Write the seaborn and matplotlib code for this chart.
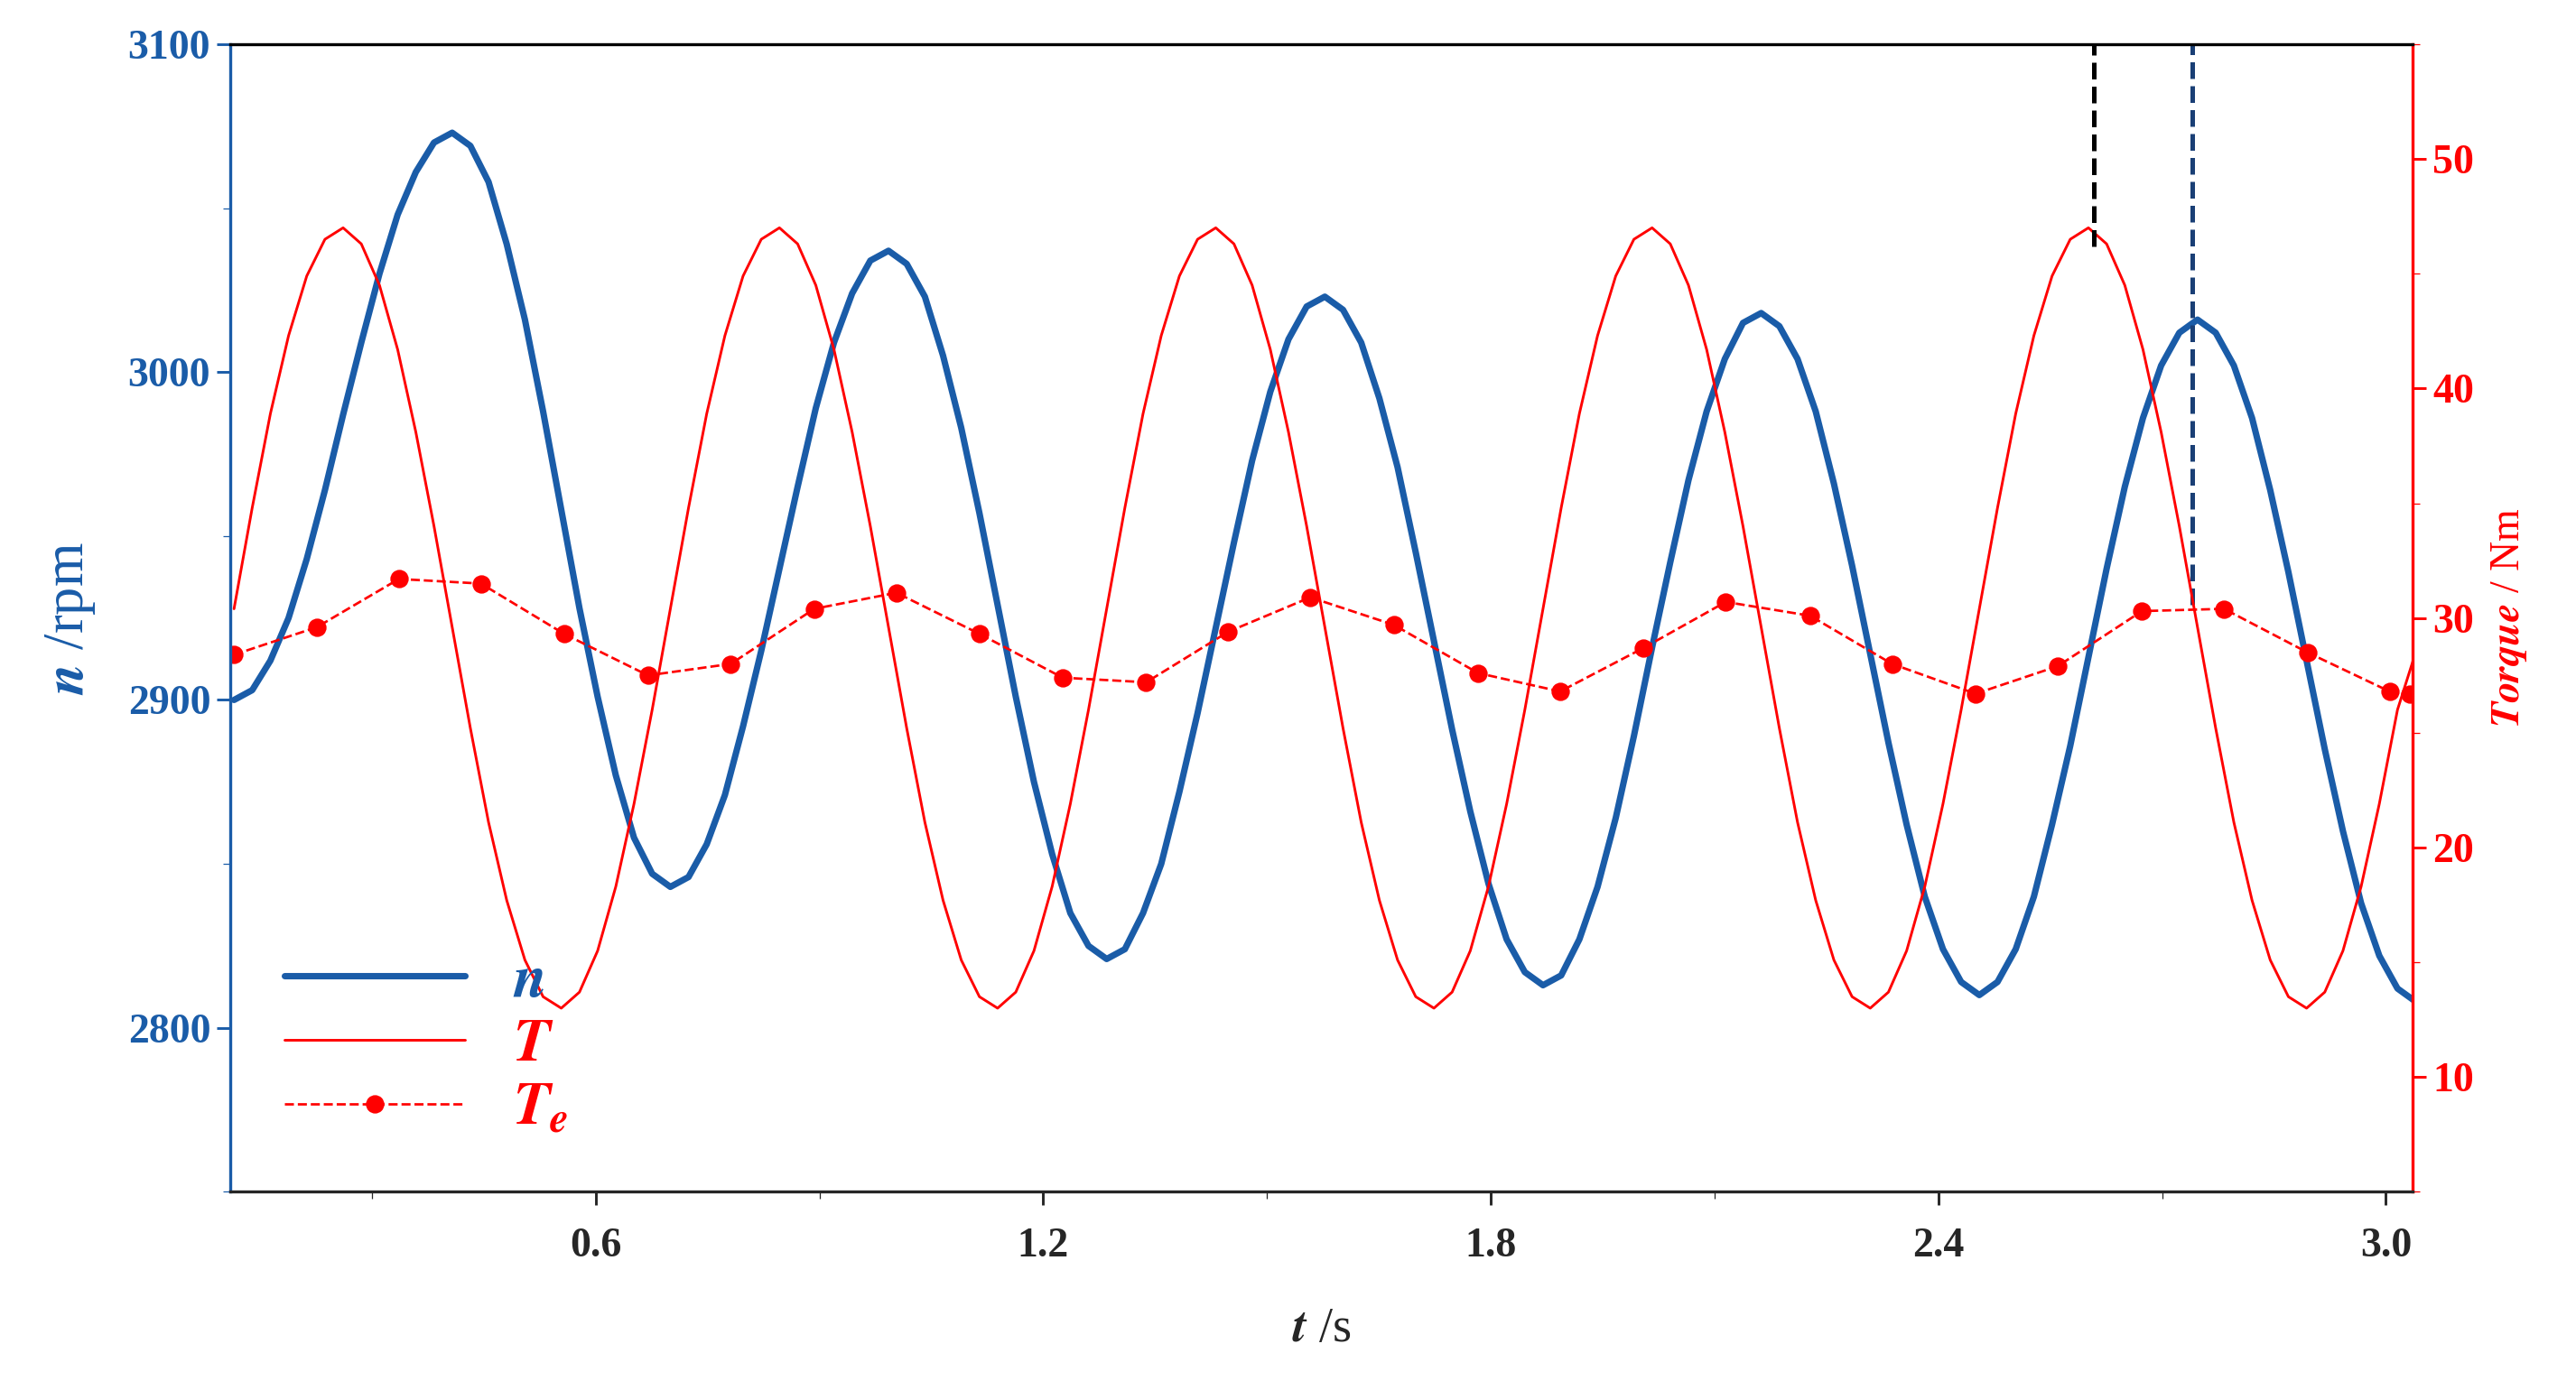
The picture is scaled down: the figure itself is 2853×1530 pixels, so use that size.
import numpy as np
import pandas as pd
import matplotlib
matplotlib.use("Agg")
import matplotlib.pyplot as plt
from matplotlib.ticker import MultipleLocator
import seaborn as sns

sns.set_style("ticks")
plt.rcParams['font.family'] = ['Liberation Serif', 'DejaVu Serif']
plt.rcParams['font.weight'] = 'bold'
plt.rcParams['mathtext.fontset'] = 'stix'

BLUE = '#1a5ca8'
RED = '#ff0000'

# sample times (s) for n and T curves
t_curve = np.linspace(0.115, 3.04, 121)

# rotational speed n (rpm)
n_rpm = [2900, 2903, 2912, 2925, 2943, 2964, 2987, 3009, 3030, 3048, 3061, 3070, 3073,
         3069, 3058, 3039, 3016, 2988, 2958, 2928, 2901, 2877, 2858, 2847, 2843,
         2846, 2856, 2871, 2892, 2915, 2940, 2965, 2989, 3009, 3024, 3034, 3037,
         3033, 3023, 3005, 2983, 2957, 2929, 2901, 2875, 2853, 2835, 2825, 2821,
         2824, 2835, 2850, 2872, 2896, 2922, 2948, 2973, 2994, 3010, 3020, 3023,
         3019, 3009, 2992, 2971, 2945, 2918, 2891, 2866, 2844, 2827, 2817, 2813,
         2816, 2827, 2843, 2864, 2889, 2916, 2942, 2967, 2988, 3004, 3015, 3018,
         3014, 3004, 2988, 2966, 2941, 2914, 2887, 2862, 2840, 2824, 2814, 2810,
         2814, 2824, 2840, 2862, 2886, 2913, 2940, 2965, 2986, 3002, 3012, 3016,
         3012, 3002, 2986, 2964, 2939, 2912, 2885, 2860, 2838, 2822, 2812, 2808]

# torque T (Nm)
T_cycle = [30.4, 34.8, 38.9, 42.3, 44.9, 46.5, 47.0, 46.3, 44.5, 41.7, 38.1, 34.0,
           29.6, 25.2, 21.1, 17.7, 15.1, 13.5, 13.0, 13.7, 15.5, 18.3, 21.9, 26.0]
T_nm = T_cycle * 5 + [28.5]

# estimated torque Te (markers)
t_te = [0.115, 0.226, 0.336, 0.446, 0.558, 0.670, 0.781, 0.893, 1.003, 1.115,
        1.226, 1.338, 1.448, 1.558, 1.670, 1.783, 1.893, 2.005, 2.115, 2.228,
        2.338, 2.450, 2.560, 2.673, 2.783, 2.895, 3.005, 3.032]
Te_nm = [28.4, 29.6, 31.7, 31.5, 29.3, 27.5, 28.0, 30.4, 31.1, 29.3,
         27.4, 27.2, 29.4, 30.9, 29.7, 27.6, 26.8, 28.7, 30.7, 30.1,
         28.0, 26.7, 27.9, 30.3, 30.4, 28.5, 26.8, 26.7]

# vertical markers: (time, lower end)
t_peak_T, T_peak_mark = 2.609, 46.2
t_peak_n, n_peak_mark = 2.741, 2929

df_c = pd.DataFrame({'t': t_curve, 'n': n_rpm, 'T': T_nm})
df_e = pd.DataFrame({'t': t_te, 'Te': Te_nm})

fig = plt.figure(figsize=(2853 / 150, 1530 / 150), dpi=150)
ax = fig.add_axes([0.0894, 0.137, 0.8472, 0.831])
ax2 = ax.twinx()

sns.lineplot(data=df_c, x='t', y='n', ax=ax, color=BLUE, lw=3.4, label='$n$', legend=False)
sns.lineplot(data=df_c, x='t', y='T', ax=ax2, color=RED, lw=1.4, label='$T$', legend=False)
sns.lineplot(data=df_e, x='t', y='Te', ax=ax2, color=RED, lw=1.3, ls='--',
             marker='o', markersize=9, markeredgecolor=RED, label='$T_e$', legend=False)

ax2.plot([t_peak_T, t_peak_T], [T_peak_mark, 55], color='black', ls='--', lw=2.4)
ax.plot([t_peak_n, t_peak_n], [n_peak_mark, 3100], color='#1a3f75', ls='--', lw=2.4)

ax.set_xlim(0.11, 3.036)
ax.set_ylim(2750, 3100)
ax2.set_ylim(5, 55)
ax.xaxis.set_major_locator(MultipleLocator(0.6))
ax.xaxis.set_minor_locator(MultipleLocator(0.3))
ax.yaxis.set_major_locator(MultipleLocator(100))
ax.yaxis.set_minor_locator(MultipleLocator(50))
ax2.yaxis.set_major_locator(MultipleLocator(10))
ax2.yaxis.set_minor_locator(MultipleLocator(5))

ax.set_xlabel(r'$\mathbfit{t}$ /s', fontsize=26, labelpad=22)
ax.set_ylabel(r'$\mathbfit{n}$ /rpm', fontsize=30, color=BLUE, labelpad=16)
ax2.set_ylabel(r'$\mathbfit{Torque}$ / Nm', fontsize=22, color=RED, labelpad=8)

ax.tick_params(axis='x', labelsize=22, length=7, width=1.4, pad=12)
ax.tick_params(axis='x', which='minor', length=4)
ax.tick_params(axis='y', colors=BLUE, labelsize=22, length=7, width=1.4)
ax.tick_params(axis='y', which='minor', colors=BLUE, length=4)
ax2.tick_params(axis='y', colors=RED, labelsize=22, length=7, width=1.4)
ax2.tick_params(axis='y', which='minor', colors=RED, length=4)
for lab in ax.get_xticklabels() + ax.get_yticklabels() + ax2.get_yticklabels():
    lab.set_fontweight('bold')

ax2.spines['left'].set_color(BLUE)
ax2.spines['right'].set_color(RED)
ax2.spines['top'].set_color('black')
for sp in ax2.spines.values():
    sp.set_linewidth(1.6)

h1, l1 = ax.get_legend_handles_labels()
h2, l2 = ax2.get_legend_handles_labels()
ax2.legend(h1 + h2, l1 + l2, loc='lower left', frameon=False, fontsize=32,
           handlelength=3.0, labelspacing=0.15, borderaxespad=0.5,
           labelcolor=[BLUE, RED, RED])

fig.savefig('out.png', dpi=150)
